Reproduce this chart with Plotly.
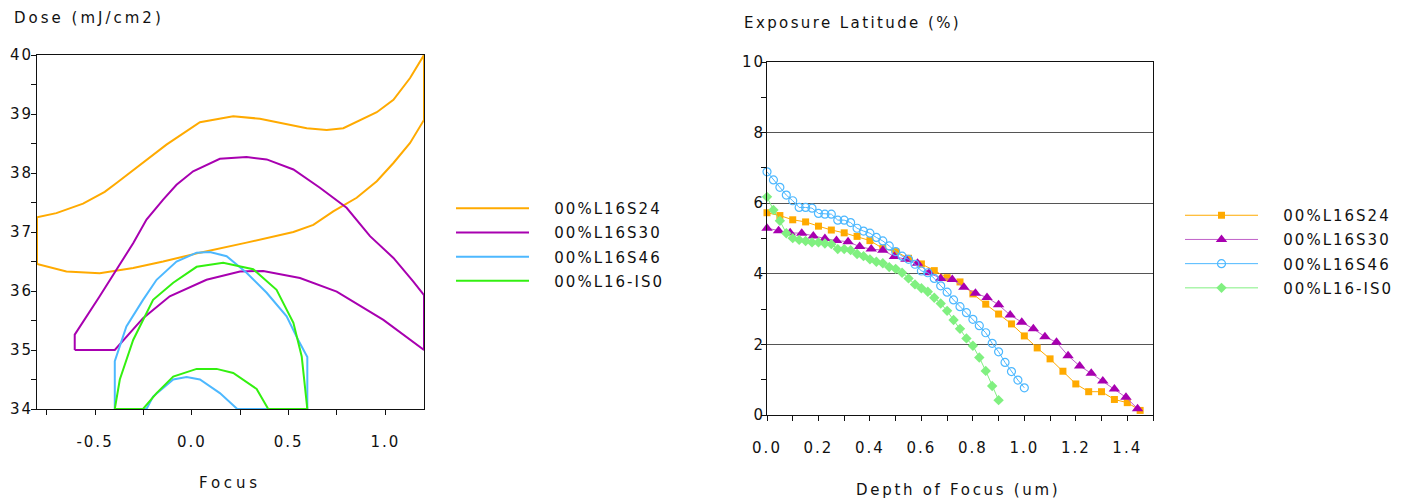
import plotly.graph_objects as go

# ---------------- Left chart: process window contours ----------------
s24_focus = [-0.8, -0.70, -0.562, -0.45, -0.389, -0.26, -0.131, 0.042, 0.214, 0.352, 0.473, 0.594,
             0.697, 0.783, 0.956, 1.042, 1.128, 1.2, 1.2, 1.128, 1.042, 0.956, 0.852, 0.731,
             0.628, 0.525, 0.283, 0.042, -0.148, -0.303, -0.476, -0.648, -0.8, -0.8]
s24_dose = [37.25, 37.32, 37.48, 37.68, 37.83, 38.15, 38.48, 38.86, 38.96, 38.92, 38.84, 38.76,
            38.73, 38.76, 39.03, 39.24, 39.61, 40.0, 38.9, 38.51, 38.17, 37.86, 37.58, 37.35,
            37.12, 37.0, 36.82, 36.65, 36.50, 36.39, 36.30, 36.33, 36.46, 37.25]

s30_focus = [-0.605, -0.605, -0.476, -0.303, -0.234, -0.148, -0.079, 0.007, 0.145, 0.283, 0.387,
             0.525, 0.662, 0.8, 0.921, 1.042, 1.145, 1.2, 1.2, 1.128, 0.99, 0.749, 0.559, 0.369,
             0.249, 0.076, -0.114, -0.252, -0.398, -0.605]
s30_dose = [35.0, 35.26, 35.91, 36.81, 37.21, 37.55, 37.80, 38.03, 38.24, 38.27, 38.23,
            38.06, 37.75, 37.41, 36.93, 36.56, 36.16, 35.93, 35.0, 35.17, 35.51, 35.99, 36.22, 36.34,
            36.33, 36.19, 35.91, 35.54, 35.0, 35.0]

s46_focus = [-0.398, -0.398, -0.338, -0.252, -0.182, -0.079, 0.025, 0.093, 0.180, 0.283, 0.387,
             0.490, 0.550, 0.597, 0.597, 0.235, 0.145, 0.042, -0.027, -0.096, -0.2, -0.234, -0.398]
s46_dose = [34.0, 34.81, 35.40, 35.85, 36.19, 36.50, 36.65, 36.66, 36.59, 36.31, 35.97,
            35.57, 35.17, 34.88, 34.0, 34.0, 34.27, 34.50, 34.54, 34.50, 34.21, 34.0, 34.0]

is0_focus = [-0.398, -0.372, -0.303, -0.2, -0.096, 0.025, 0.162, 0.317, 0.438, 0.525, 0.568,
             0.597, 0.395, 0.335, 0.214, 0.128, 0.025, -0.096, -0.182, -0.252, -0.398]
is0_dose = [34.0, 34.50, 35.17, 35.85, 36.14, 36.41, 36.48, 36.37, 36.02, 35.46, 34.89,
            34.0, 34.0, 34.34, 34.61, 34.68, 34.68, 34.55, 34.27, 34.0, 34.0]

# ---------------- Right chart: exposure latitude vs DOF ----------------
s24_dof = [0.0, 0.05, 0.1, 0.15, 0.2, 0.25, 0.3, 0.35, 0.4, 0.45, 0.5, 0.55, 0.6, 0.65, 0.7,
           0.75, 0.8, 0.85, 0.9, 0.95, 1.0, 1.05, 1.1, 1.15, 1.2, 1.25, 1.3, 1.35, 1.4, 1.45]
s24_el = [5.73, 5.65, 5.53, 5.47, 5.35, 5.24, 5.16, 5.06, 4.94, 4.72, 4.63, 4.44, 4.28, 4.09, 3.89,
          3.77, 3.43, 3.14, 2.86, 2.58, 2.24, 1.90, 1.59, 1.24, 0.88, 0.66, 0.66, 0.44, 0.35, 0.13]

s30_dof = [0.0, 0.045, 0.09, 0.135, 0.18, 0.225, 0.27, 0.315, 0.36, 0.405, 0.45, 0.495, 0.54,
           0.585, 0.63, 0.675, 0.72, 0.765, 0.81, 0.855, 0.9, 0.945, 0.99, 1.035, 1.08, 1.125,
           1.17, 1.215, 1.26, 1.305, 1.35, 1.395, 1.44]
s30_el = [5.29, 5.22, 5.16, 5.15, 5.07, 5.0, 4.94, 4.91, 4.77, 4.70, 4.67, 4.49, 4.41, 4.30,
          4.03, 3.87, 3.84, 3.62, 3.45, 3.33, 3.12, 2.83, 2.63, 2.44, 2.22, 2.06, 1.68, 1.39,
          1.18, 0.96, 0.74, 0.50, 0.18]

s46_dof = [0.0, 0.025, 0.05, 0.075, 0.1, 0.125, 0.15, 0.175, 0.2, 0.225, 0.25, 0.275, 0.3,
           0.325, 0.35, 0.375, 0.4, 0.425, 0.45, 0.475, 0.5, 0.525, 0.55, 0.575, 0.6, 0.625,
           0.65, 0.675, 0.7, 0.725, 0.75, 0.775, 0.8, 0.825, 0.85, 0.875, 0.9, 0.925, 0.95,
           0.975, 1.0]
s46_el = [6.89, 6.66, 6.45, 6.23, 6.07, 5.88, 5.88, 5.86, 5.71, 5.69, 5.69, 5.52, 5.52, 5.45,
          5.29, 5.21, 5.15, 5.03, 4.93, 4.79, 4.63, 4.50, 4.41, 4.27, 4.08, 4.03, 3.87, 3.66,
          3.48, 3.26, 3.07, 2.90, 2.71, 2.53, 2.33, 2.03, 1.79, 1.49, 1.23, 0.99, 0.77]

is0_dof = [0.0, 0.025, 0.05, 0.075, 0.1, 0.125, 0.15, 0.175, 0.2, 0.225, 0.25, 0.275, 0.3,
           0.325, 0.35, 0.375, 0.4, 0.425, 0.45, 0.475, 0.5, 0.525, 0.55, 0.575, 0.6, 0.625,
           0.65, 0.675, 0.7, 0.725, 0.75, 0.775, 0.8, 0.825, 0.85, 0.875, 0.9]
is0_el = [6.18, 5.81, 5.50, 5.15, 5.01, 4.96, 4.93, 4.89, 4.89, 4.86, 4.84, 4.70, 4.70, 4.67,
          4.56, 4.50, 4.41, 4.34, 4.30, 4.19, 4.14, 4.03, 3.87, 3.70, 3.59, 3.49, 3.32, 3.16,
          2.95, 2.69, 2.44, 2.17, 1.96, 1.63, 1.25, 0.82, 0.42]

series_names = ["00%L16S24", "00%L16S30", "00%L16S46", "00%L16-IS0"]

# tick labels
left_x_ticks = [-0.75, -0.5, -0.25, 0.0, 0.25, 0.5, 0.75, 1.0]
left_x_labels = ["", "-0.5", "", "0.0", "", "0.5", "", "1.0"]
left_y_ticks = [34, 34.5, 35, 35.5, 36, 36.5, 37, 37.5, 38, 38.5, 39, 39.5, 40]
left_y_labels = ["34", "", "35", "", "36", "", "37", "", "38", "", "39", "", "40"]
right_x_ticks = [0.0, 0.1, 0.2, 0.3, 0.4, 0.5, 0.6, 0.7, 0.8, 0.9, 1.0, 1.1, 1.2, 1.3, 1.4, 1.5]
right_x_labels = ["0.0", "", "0.2", "", "0.4", "", "0.6", "", "0.8", "", "1.0", "", "1.2", "", "1.4", ""]
right_y_ticks = [0, 2, 4, 6, 8, 10]
right_y_labels = ["0", "2", "4", "6", "8", "10"]
right_y_minor = [1, 3, 5, 7, 9]

C_OR = "#ffaa00"
C_PU = "#a800b0"
C_BL = "#4db8ff"
C_GR = "#33f010"
C_GR2 = "#80f080"
C_PU2 = "#c060c8"

FONT = "DejaVu Sans"


def sp(t, px=2.0):
    return f'<span style="letter-spacing:{px}px">{t}</span>' if t else ""


def leg(t):
    return f'<span style="letter-spacing:2px">&nbsp;&nbsp;&nbsp;{t}</span>'


fig = go.Figure()

left_sets = [(s24_focus, s24_dose, C_OR), (s30_focus, s30_dose, C_PU),
             (s46_focus, s46_dose, C_BL), (is0_focus, is0_dose, C_GR)]
for (fx, dy, col), nm in zip(left_sets, series_names):
    fig.add_trace(go.Scatter(x=fx, y=dy, mode="lines", name=leg(nm),
                             line=dict(color=col, width=2), xaxis="x", yaxis="y",
                             legend="legend", legendgroup="L" + nm))

right_sets = [
    (s24_dof, s24_el, C_OR, C_OR, dict(symbol="square", size=7, color=C_OR)),
    (s30_dof, s30_el, C_PU2, C_PU, dict(symbol="triangle-up", size=10, color=C_PU)),
    (s46_dof, s46_el, C_BL, C_BL, dict(symbol="circle-open", size=8, color=C_BL, line=dict(width=1.2))),
    (is0_dof, is0_el, C_GR2, C_GR2, dict(symbol="diamond", size=8, color=C_GR2)),
]
for (dx, ey, lc, mc, mk), nm in zip(right_sets, series_names):
    fig.add_trace(go.Scatter(x=dx, y=ey, mode="lines+markers", name=leg(nm),
                             line=dict(color=lc, width=1), marker=mk,
                             xaxis="x2", yaxis="y2", legend="legend2", legendgroup="R" + nm,
                             cliponaxis=False))

W, H = 1402, 502
tickfont = dict(family=FONT, size=15, color="#111")

common = dict(showgrid=False, zeroline=False, showline=True, linecolor="#111", linewidth=1,
              mirror=True, ticks="outside", ticklen=5, tickcolor="#111", tickfont=tickfont,
              automargin=False, tickmode="array")

TS = 2.0
fig.update_layout(
    width=W, height=H, autosize=False,
    margin=dict(l=0, r=0, t=0, b=0, autoexpand=False),
    paper_bgcolor="white", plot_bgcolor="white",
    font=dict(family=FONT, color="#111"),
    xaxis=dict(domain=[37 / W, 424 / W], range=[-0.8, 1.2], anchor="y",
               tickvals=left_x_ticks, ticktext=[sp(t, TS) for t in left_x_labels],
               ticklabelstandoff=14, **common),
    yaxis=dict(domain=[(H - 409) / H, (H - 55) / H], range=[34, 40], anchor="x",
               tickvals=left_y_ticks, ticktext=[sp(t, TS) for t in left_y_labels],
               ticklabelstandoff=-5, **common),
    xaxis2=dict(domain=[767 / W, 1153 / W], range=[0, 1.5], anchor="y2",
                tickvals=right_x_ticks, ticktext=[sp(t, TS) for t in right_x_labels],
                ticklabelstandoff=14, **common),
    yaxis2=dict(domain=[(H - 415) / H, (H - 62) / H], range=[0, 10], anchor="x2",
                tickvals=right_y_ticks, ticktext=[sp(t, TS) for t in right_y_labels],
                ticklabelstandoff=-7,
                minor=dict(tickvals=right_y_minor, ticks="outside", ticklen=5, tickcolor="#111",
                           showgrid=False),
                **{**common, "showgrid": True, "gridcolor": "#555", "gridwidth": 1}),
    legend=dict(x=451 / W, y=(H - 192) / H, xanchor="left", yanchor="top",
                font=dict(family=FONT, size=15, color="#111"), bgcolor="rgba(0,0,0,0)",
                itemwidth=73, tracegroupgap=1.7),
    legend2=dict(x=1180 / W, y=(H - 199) / H, xanchor="left", yanchor="top",
                 font=dict(family=FONT, size=15, color="#111"), bgcolor="rgba(0,0,0,0)",
                 itemwidth=73, tracegroupgap=1.7),
    showlegend=True,
)

titlefont = dict(family=FONT, size=15, color="#111")
annos = [
    dict(text=sp("Dose (mJ/cm2)", 3.0), x=12 / W, y=(H - 18) / H, xanchor="left", yanchor="middle"),
    dict(text=sp("Focus", 3.8), x=230 / W, y=(H - 483) / H, xanchor="center", yanchor="middle"),
    dict(text=sp("Exposure Latitude (%)", 2.4), x=742 / W, y=(H - 23) / H, xanchor="left", yanchor="middle"),
    dict(text=sp("Depth of Focus (um)", 2.7), x=958 / W, y=(H - 490) / H, xanchor="center", yanchor="middle"),
]
for a in annos:
    fig.add_annotation(xref="paper", yref="paper", showarrow=False, font=titlefont, **a)

fig.write_html("out.html", config={"displayModeBar": False},
               post_script="document.body.style.margin='0';")
